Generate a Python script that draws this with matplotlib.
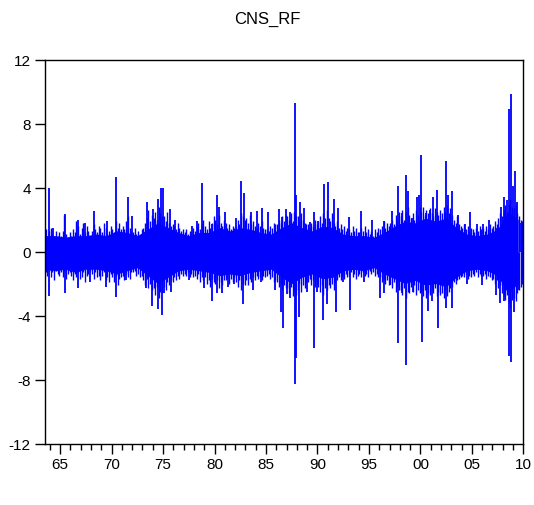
import matplotlib
matplotlib.use("Agg")
import matplotlib.pyplot as plt
import numpy as np

plt.rcParams['font.family'] = ['Liberation Sans', 'DejaVu Sans']

# dense band of the series, read per year (upper / lower edge of the solid blue)
years = np.arange(1963, 2010)
core_hi = [1.0, 1.0, 0.9, 1.0, 1.0, 1.1, 1.0, 1.3, 1.2, 1.0, 1.4, 1.8, 1.5, 1.2, 1.0, 1.2,
           1.2, 1.5, 1.3, 1.5, 1.4, 1.2, 1.1, 1.5, 1.8, 1.5, 1.3, 1.6, 1.5, 1.1, 1.0, 1.0,
           0.9, 1.2, 1.6, 1.9, 1.8, 2.1, 1.9, 2.1, 1.5, 1.1, 1.0, 1.1, 1.4, 2.5, 2.0]
core_lo = [-1.1, -1.2, -1.1, -1.3, -1.1, -1.1, -1.2, -1.4, -1.2, -1.0, -1.5, -2.0, -1.6,
           -1.2, -1.1, -1.2, -1.3, -1.5, -1.4, -1.5, -1.3, -1.2, -1.1, -1.6, -2.0, -1.6,
           -1.4, -1.7, -1.6, -1.2, -1.1, -1.2, -1.0, -1.4, -1.7, -2.0, -1.8, -2.1, -2.0,
           -2.2, -1.6, -1.2, -1.1, -1.2, -1.5, -2.6, -2.0]

# ragged edge of the band: six readings per year, upper side
edge_hi = [
    [1.2, 1.5, 1.1, 1.4, 1.0, 1.3], [1.5, 1.1, 0.9, 1.3, 1.0, 1.2],
    [1.0, 1.3, 2.3, 1.1, 0.9, 1.2], [1.0, 1.4, 1.2, 1.9, 1.6, 1.1],
    [1.5, 1.8, 1.2, 1.6, 1.3, 1.0], [1.3, 1.7, 1.4, 1.2, 1.6, 1.5],
    [1.2, 1.8, 1.5, 1.1, 1.3, 1.6], [1.4, 1.2, 1.9, 1.5, 1.8, 1.4],
    [1.6, 1.4, 1.9, 2.2, 1.5, 1.3], [1.2, 1.5, 1.1, 1.3, 1.0, 1.4],
    [1.5, 1.8, 2.1, 2.6, 1.9, 2.3], [2.1, 2.5, 2.0, 2.8, 2.4, 2.2],
    [2.2, 1.9, 2.5, 1.8, 1.6, 1.7], [1.6, 1.4, 1.8, 1.5, 1.3, 1.4],
    [1.2, 1.4, 1.1, 1.3, 1.2, 1.5], [1.3, 1.6, 1.8, 1.4, 1.7, 2.0],
    [1.6, 1.4, 1.9, 1.5, 1.8, 2.2], [2.0, 1.7, 2.3, 1.8, 1.6, 2.0],
    [1.8, 1.5, 1.7, 1.4, 1.6, 1.5], [1.6, 2.0, 1.7, 2.4, 2.2, 2.0],
    [2.1, 1.8, 2.3, 1.7, 1.9, 1.6], [1.5, 1.8, 1.6, 1.9, 1.5, 1.4],
    [1.4, 1.3, 1.6, 1.5, 1.8, 1.7], [1.7, 2.0, 1.8, 2.2, 1.9, 2.3],
    [2.2, 2.0, 2.4, 1.9, 2.5, 2.2], [2.2, 1.9, 2.4, 2.0, 1.8, 1.7],
    [1.7, 1.5, 1.8, 1.6, 2.0, 1.7], [1.9, 2.2, 1.8, 2.4, 2.1, 2.6],
    [2.1, 1.9, 2.4, 1.8, 1.6, 1.9], [1.5, 1.7, 1.4, 1.6, 1.3, 1.5],
    [1.4, 1.2, 1.6, 1.3, 1.5, 1.2], [1.2, 1.5, 1.3, 1.6, 1.2, 1.4],
    [1.1, 1.3, 1.0, 1.4, 1.2, 1.5], [1.4, 1.6, 1.9, 1.5, 1.8, 1.6],
    [1.8, 2.0, 1.7, 2.3, 2.0, 2.5], [2.2, 2.6, 2.0, 2.5, 2.8, 2.3],
    [2.1, 2.4, 2.0, 2.6, 2.3, 2.8], [2.5, 2.8, 2.3, 2.6, 2.4, 2.7],
    [2.4, 2.2, 2.7, 2.5, 2.3, 2.6], [2.4, 2.8, 2.5, 2.9, 2.4, 2.7],
    [2.3, 2.0, 1.8, 2.2, 1.7, 1.6], [1.5, 1.7, 1.4, 1.6, 1.3, 1.5],
    [1.4, 1.2, 1.5, 1.3, 1.6, 1.4], [1.5, 1.3, 1.6, 1.4, 1.7, 1.5],
    [1.6, 1.9, 1.7, 2.1, 2.4, 2.2], [2.6, 2.9, 2.5, 3.0, 3.3, 2.8],
    [2.7, 3.0, 2.4, 2.2, 2.0, 1.9]]

# ragged edge of the band: six readings per year, lower side
edge_lo = [
    [-1.4, -1.2, -1.7, -1.3, -1.5, -1.2], [-1.6, -1.3, -1.8, -1.2, -1.4, -1.5],
    [-1.3, -1.6, -1.2, -1.7, -1.4, -1.3], [-1.5, -1.8, -1.4, -1.6, -1.3, -1.7],
    [-1.6, -1.3, -1.9, -1.5, -1.4, -1.2], [-1.4, -1.7, -1.3, -1.6, -1.5, -1.8],
    [-1.5, -1.3, -1.8, -1.6, -1.9, -1.4], [-1.6, -1.9, -1.5, -2.1, -1.7, -1.6],
    [-1.5, -1.8, -1.4, -1.6, -1.7, -1.3], [-1.3, -1.2, -1.5, -1.4, -1.6, -1.5],
    [-1.8, -2.1, -1.7, -2.3, -2.0, -2.4], [-2.3, -2.7, -2.2, -2.9, -2.5, -2.6],
    [-2.2, -2.4, -1.9, -2.1, -1.8, -1.9], [-1.6, -1.8, -1.5, -1.7, -1.4, -1.5],
    [-1.4, -1.5, -1.3, -1.6, -1.4, -1.6], [-1.5, -1.7, -1.4, -1.9, -1.6, -1.8],
    [-1.6, -2.0, -1.8, -2.2, -1.7, -1.9], [-2.0, -1.8, -2.3, -1.9, -2.1, -1.8],
    [-1.8, -1.6, -2.0, -1.7, -1.9, -1.6], [-1.9, -2.2, -1.8, -2.4, -2.0, -2.1],
    [-1.8, -2.1, -1.7, -1.9, -1.6, -1.8], [-1.5, -1.7, -1.6, -1.8, -1.5, -1.6],
    [-1.5, -1.4, -1.7, -1.6, -1.9, -1.8], [-1.9, -2.2, -2.0, -2.4, -2.1, -2.3],
    [-2.3, -2.6, -2.2, -2.8, -2.5, -2.7], [-2.4, -2.0, -2.5, -2.1, -2.3, -1.9],
    [-1.9, -1.7, -2.1, -1.8, -2.2, -2.0], [-2.2, -2.5, -2.1, -2.7, -2.3, -2.4],
    [-2.1, -2.3, -2.0, -2.4, -1.9, -1.8], [-1.6, -1.8, -1.5, -1.7, -1.4, -1.6],
    [-1.5, -1.3, -1.6, -1.4, -1.7, -1.5], [-1.4, -1.6, -1.3, -1.5, -1.4, -1.6],
    [-1.2, -1.4, -1.3, -1.5, -1.4, -1.6], [-1.6, -1.9, -1.7, -2.0, -1.8, -2.1],
    [-2.0, -2.3, -1.9, -2.5, -2.2, -2.4], [-2.4, -2.7, -2.3, -2.9, -2.5, -2.6],
    [-2.2, -2.5, -2.1, -2.7, -2.4, -2.6], [-2.5, -2.8, -2.4, -2.9, -2.6, -2.7],
    [-2.4, -2.6, -2.3, -2.8, -2.5, -2.7], [-2.6, -2.9, -2.4, -2.8, -2.5, -2.3],
    [-2.2, -1.9, -2.0, -1.8, -1.7, -1.6], [-1.5, -1.6, -1.4, -1.7, -1.5, -1.6],
    [-1.4, -1.5, -1.3, -1.6, -1.4, -1.5], [-1.5, -1.4, -1.7, -1.5, -1.6, -1.8],
    [-1.7, -2.0, -1.8, -2.3, -2.1, -2.6], [-2.8, -3.0, -2.7, -3.2, -3.5, -3.0],
    [-2.9, -3.1, -2.6, -2.4, -2.2, -2.0]]

# individual spikes above the band
up_t = [1963.9, 1964.3, 1965.5, 1966.7, 1967.4, 1968.3, 1969.6, 1970.4, 1971.6, 1972.0,
        1973.4, 1974.0, 1974.5, 1974.8, 1975.0, 1975.7, 1976.2, 1977.8, 1978.3, 1978.8,
        1979.8, 1980.2, 1980.4, 1981.0, 1982.1, 1982.6, 1982.85, 1983.5, 1984.1, 1984.6,
        1985.2, 1986.25, 1986.6, 1986.96, 1987.3, 1987.77, 1987.95, 1988.3, 1988.7, 1989.3,
        1989.7, 1990.1, 1990.6, 1991.0, 1991.6, 1992.0, 1993.1, 1994.2, 1995.3, 1996.5,
        1997.25, 1997.8, 1998.2, 1998.65, 1998.8, 1999.2, 1999.7, 1999.9, 2000.1, 2000.5,
        2000.9, 2001.2, 2001.65, 2002.1, 2002.5, 2002.7, 2003.1, 2003.7, 2004.3, 2004.8,
        2005.5, 2006.1, 2006.7, 2007.4, 2007.8, 2008.15, 2008.4, 2008.65, 2008.77, 2008.95,
        2009.15, 2009.4, 2009.7]
up_v = [4.0, 1.46, 2.35, 2.0, 1.8, 2.56, 1.9, 4.65, 3.4, 2.25,
        3.1, 2.67, 3.3, 3.96, 4.0, 2.67, 2.0, 1.6, 1.9, 4.3,
        1.7, 3.54, 2.8, 2.46, 2.1, 4.44, 3.67, 2.46, 2.56, 2.73,
        2.46, 2.67, 2.15, 2.67, 2.46, 9.3, 3.54, 3.13, 2.7, 1.84,
        2.46, 1.9, 4.2, 4.33, 3.3, 2.73, 2.15, 2.56, 2.0, 1.9,
        2.52, 4.13, 2.42, 4.8, 3.8, 2.1, 3.4, 3.54, 6.06, 2.4,
        2.63, 3.4, 3.86, 1.9, 5.69, 3.56, 3.77, 2.3, 1.73, 2.46,
        1.73, 1.75, 1.98, 1.5, 2.77, 3.4, 3.2, 8.92, 9.86, 4.13,
        5.06, 3.1, 1.8]

# individual spikes below the band
dn_t = [1963.9, 1965.5, 1966.7, 1967.9, 1969.5, 1970.4, 1971.4, 1973.3, 1973.9, 1974.5,
        1974.9, 1975.1, 1975.8, 1977.5, 1979.0, 1979.8, 1980.2, 1980.7, 1981.3, 1981.9,
        1982.8, 1983.7, 1984.5, 1985.9, 1986.5, 1986.7, 1987.0, 1987.3, 1987.8, 1987.95,
        1988.2, 1989.0, 1989.7, 1990.0, 1990.5, 1990.9, 1991.8, 1992.5, 1993.2, 1994.5,
        1996.1, 1996.5, 1997.0, 1997.8, 1998.2, 1998.6, 1999.3, 2000.2, 2000.7, 2001.1,
        2001.7, 2002.5, 2003.1, 2004.5, 2006.0, 2007.3, 2007.7, 2008.1, 2008.65, 2008.8,
        2009.1, 2009.5, 2009.9]
dn_v = [-2.75, -2.6, -2.3, -1.9, -2.2, -2.85, -1.8, -2.3, -3.4, -3.6,
        -3.96, -2.58, -2.54, -1.75, -2.3, -3.1, -2.58, -2.58, -2.2, -2.0,
        -3.3, -2.4, -1.9, -2.4, -3.8, -4.8, -2.64, -2.9, -8.27, -6.64,
        -4.1, -2.5, -6.04, -2.5, -4.27, -3.3, -3.75, -1.9, -3.62, -1.9,
        -2.9, -2.6, -2.1, -5.7, -2.6, -7.1, -2.5, -5.66, -3.7, -3.1,
        -4.8, -3.5, -3.5, -2.0, -2.1, -2.7, -3.2, -3.06, -6.5, -6.9,
        -3.8, -2.4, -1.9]

yticks = [-12, -8, -4, 0, 4, 8, 12]
xticks = [1965, 1970, 1975, 1980, 1985, 1990, 1995, 2000, 2005, 2010]
xlabels = ['65', '70', '75', '80', '85', '90', '95', '00', '05', '10']

fig = plt.figure(figsize=(5.34, 5.06), dpi=100)
ax = fig.add_axes([0.0837, 0.1215, 0.8963, 0.7585])

blue = '#0000ff'
t = years + 0.5
ax.fill_between(t, core_lo, core_hi, color=blue, lw=0)

# positions of the six edge readings inside each year
edge_t = (years[:, None] + (np.arange(6) + 0.5) / 6.0).ravel()
ax.vlines(edge_t, 0, np.array(edge_hi).ravel(), color=blue, lw=1.0)
ax.vlines(edge_t, np.array(edge_lo).ravel(), 0, color=blue, lw=1.0)

ax.vlines(up_t, 0, up_v, color=blue, lw=1.3)
ax.vlines(dn_t, dn_v, 0, color=blue, lw=1.3)

ax.set_xlim(1963.5, 2010.0)
ax.set_ylim(-12, 12)
ax.set_yticks(yticks)
ax.set_yticklabels([str(v) for v in yticks])
ax.set_xticks(xticks)
ax.set_xticklabels(xlabels)
ax.set_xticks(np.arange(1964, 2011), minor=True)
ax.tick_params(axis='both', which='major', direction='out', length=7, width=1,
               labelsize=11, pad=3)
ax.tick_params(axis='x', which='minor', direction='out', length=4, width=1)
for s in ax.spines.values():
    s.set_linewidth(1.0)
    s.set_color('black')

fig.text(0.5, 0.962, 'CNS_RF', ha='center', va='center', fontsize=12)

fig.savefig('out.png', dpi=100)
